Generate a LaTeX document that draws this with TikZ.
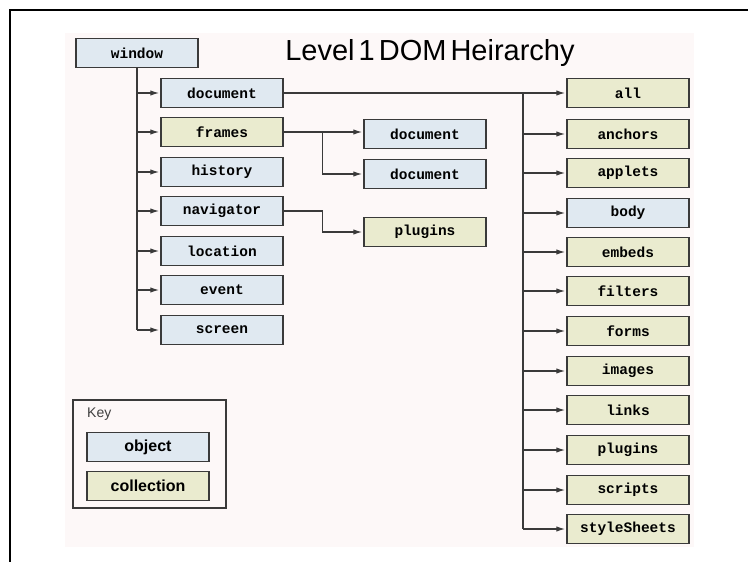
\documentclass[tikz,border=0pt]{standalone}
\usepackage{fontspec}
\setmainfont{Liberation Sans}
\setmonofont{Liberation Mono}
\newfontfamily\titlefont[WordSpace=0.5]{Liberation Sans}
\usetikzlibrary{arrows.meta}

\definecolor{paper}{HTML}{FDF8F8}
\definecolor{objfill}{HTML}{E0E9F1}
\definecolor{collfill}{HTML}{EAEBCF}
\definecolor{boxline}{HTML}{3A3A3A}

\tikzset{
    dombox/.style={draw=boxline, line width=1.5pt, minimum width=122pt, minimum height=29pt,
        inner sep=0pt, font=\ttfamily\bfseries\fontsize{14.5}{14.5}\selectfont},
    objbox/.style={dombox, fill=objfill},
    collbox/.style={dombox, fill=collfill},
    link/.style={draw=boxline, line width=1.3pt},
    arrow/.style={link, -{Latex[length=9pt,width=5.5pt]}, shorten >=1pt},
}

\begin{document}
\begin{tikzpicture}[x=1pt, y=-1pt]
    \useasboundingbox (0, 0) rectangle (748, 562);
    \fill[paper] (65, 33) rectangle (694, 547);
    \draw[line width=2pt] (10, 562) -- (10, 10) -- (748, 10);

    \node[font=\titlefont\fontsize{29}{29}\selectfont, anchor=base] (title) at (430, 60) {Level 1 DOM Heirarchy};

    % window and its children
    \node[objbox] (window) at (137, 53) {window};
    \node[objbox] (document) at (222, 93) {document};
    \node[collbox] (frames) at (222, 132) {frames};
    \node[objbox] (history) at (222, 172) {history};
    \node[objbox] (navigator) at (222, 211) {navigator};
    \node[objbox] (location) at (222, 251) {location};
    \node[objbox] (event) at (222, 290) {event};
    \node[objbox] (screen) at (222, 330) {screen};

    \draw[link] (window.south) -- (window.south |- screen.west);
    \foreach \n in {document, frames, history, navigator, location, event, screen}
        \draw[arrow] (window.south |- \n.west) -- (\n.west);

    % middle column
    \node[objbox] (framedoc1) at (425, 134) {document};
    \node[objbox] (framedoc2) at (425, 174) {document};
    \node[collbox] (navplugins) at (425, 232) {plugins};

    \draw[arrow] (frames.east) -- (framedoc1.west |- frames.east);
    \draw[arrow] ([xshift=39pt]frames.east) |- (framedoc2.west);
    \draw[arrow] (navigator.east) -- ++(39, 0) |- (navplugins.west);

    % document collections
    \node[collbox] (all) at (628, 93) {all};
    \node[collbox] (anchors) at (628, 134) {anchors};
    \node[collbox] (applets) at (628, 173) {applets};
    \node[objbox] (body) at (628, 213) {body};
    \node[collbox] (embeds) at (628, 252) {embeds};
    \node[collbox] (filters) at (628, 291) {filters};
    \node[collbox] (forms) at (628, 331) {forms};
    \node[collbox] (images) at (628, 371) {images};
    \node[collbox] (links) at (628, 410) {links};
    \node[collbox] (docplugins) at (628, 450) {plugins};
    \node[collbox] (scripts) at (628, 490) {scripts};
    \node[collbox] (styleSheets) at (628, 529) {styleSheets};

    \draw[arrow] (document.east) -- (all.west);
    \coordinate (doctrunk) at (523, 93);
    \draw[link] (doctrunk) -- (doctrunk |- styleSheets.west);
    \foreach \n in {anchors, applets, body, embeds, filters, forms, images, links, docplugins, scripts, styleSheets}
        \draw[arrow] (doctrunk |- \n.west) -- (\n.west);

    % key
    \node[draw=boxline, line width=1.2pt, minimum width=153pt, minimum height=108pt, inner sep=0pt] (key) at (149.5, 454) {};
    \node[anchor=west, inner sep=0pt, font=\fontsize{14}{14}\selectfont, text=black!75] (keylabel) at (87, 414) {Key};
    \node[objbox, font=\bfseries\fontsize{16}{16}\selectfont] (keyobj) at (148, 447) {object};
    \node[collbox, font=\bfseries\fontsize{16}{16}\selectfont] (keycoll) at (148, 486) {collection};
\end{tikzpicture}
\end{document}
